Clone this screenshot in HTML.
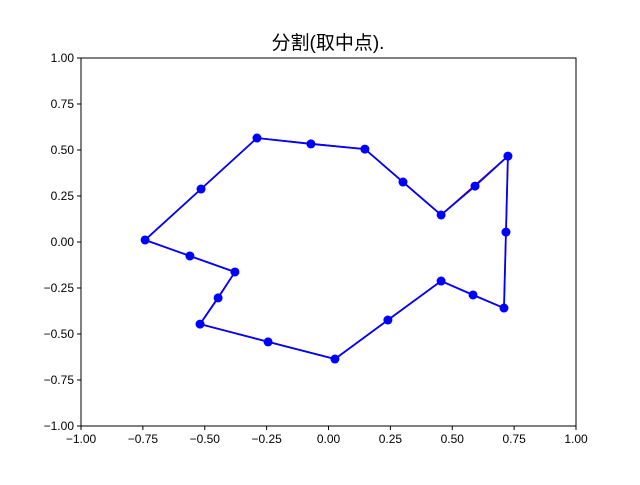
<!DOCTYPE html>
<html><head><meta charset="utf-8"><style>
body{margin:0;background:#fff}
svg text{font-family:"WenQuanYi Zen Hei","Liberation Sans",sans-serif}
</style></head><body>
<svg id="chart" width="640" height="480">
<rect x="0" y="0" width="640" height="480" fill="#fff"/>
<text x="328" y="49" font-size="19" text-anchor="middle">分割(取中点).</text>
<g id="plot"></g>
</svg>
<script>
const xs=[-0.741,-0.515,-0.289,-0.071,0.147,0.301,0.455,0.592,0.725,0.717,0.709,0.584,0.455,0.240,0.026,-0.244,-0.519,-0.446,-0.378,-0.560];
const ys=[0.011,0.288,0.565,0.533,0.505,0.326,0.147,0.304,0.467,0.054,-0.359,-0.288,-0.212,-0.424,-0.636,-0.543,-0.446,-0.304,-0.163,-0.076];
const xTicks=[-1,-0.75,-0.5,-0.25,0,0.25,0.5,0.75,1];
const yTicks=[-1,-0.75,-0.5,-0.25,0,0.25,0.5,0.75,1];
const L=81,R=576,T=58,B=426;
const sx=v=>L+(v+1)/2*(R-L), sy=v=>B-(v+1)/2*(B-T);
const g=document.getElementById('plot'),NS='http://www.w3.org/2000/svg';
function mk(t,a){const e=document.createElementNS(NS,t);for(const k in a)e.setAttribute(k,a[k]);g.appendChild(e);return e;}
const fr=mk('rect',{x:L,y:T,width:R-L,height:B-T,fill:'none',stroke:'#000','stroke-width':1});


xTicks.forEach(v=>{const x=sx(v);
const t=mk('line',{x1:x,x2:x,y1:B,y2:B+4,stroke:'#000'});


const l=mk('text',{x:x,y:B+17,'font-size':12,'text-anchor':'middle'});l.textContent=(v<0?'−':'')+Math.abs(v).toFixed(2);

});
yTicks.forEach(v=>{const y=sy(v);
const t=mk('line',{x1:L-4,x2:L,y1:y,y2:y,stroke:'#000'});


const l=mk('text',{x:L-7,y:y+4,'font-size':12,'text-anchor':'end'});l.textContent=(v<0?'−':'')+Math.abs(v).toFixed(2);

});
let orig=[];for(let i=0;i<xs.length;i+=2)orig.push(sx(xs[i])+','+sy(ys[i]));
const rp=mk('polygon',{points:orig.join(' '),fill:'none',stroke:'#d00','stroke-width':1.5});


const pts=xs.map((x,i)=>sx(x)+','+sy(ys[i])).join(' ');
const bp=mk('polygon',{points:pts,fill:'none',stroke:'#0000ff','stroke-width':1.8});


xs.forEach((x,i)=>{const c=mk('circle',{cx:sx(x),cy:sy(ys[i]),r:4.5,fill:'#0000ff'});

});
</script>
</body></html>
